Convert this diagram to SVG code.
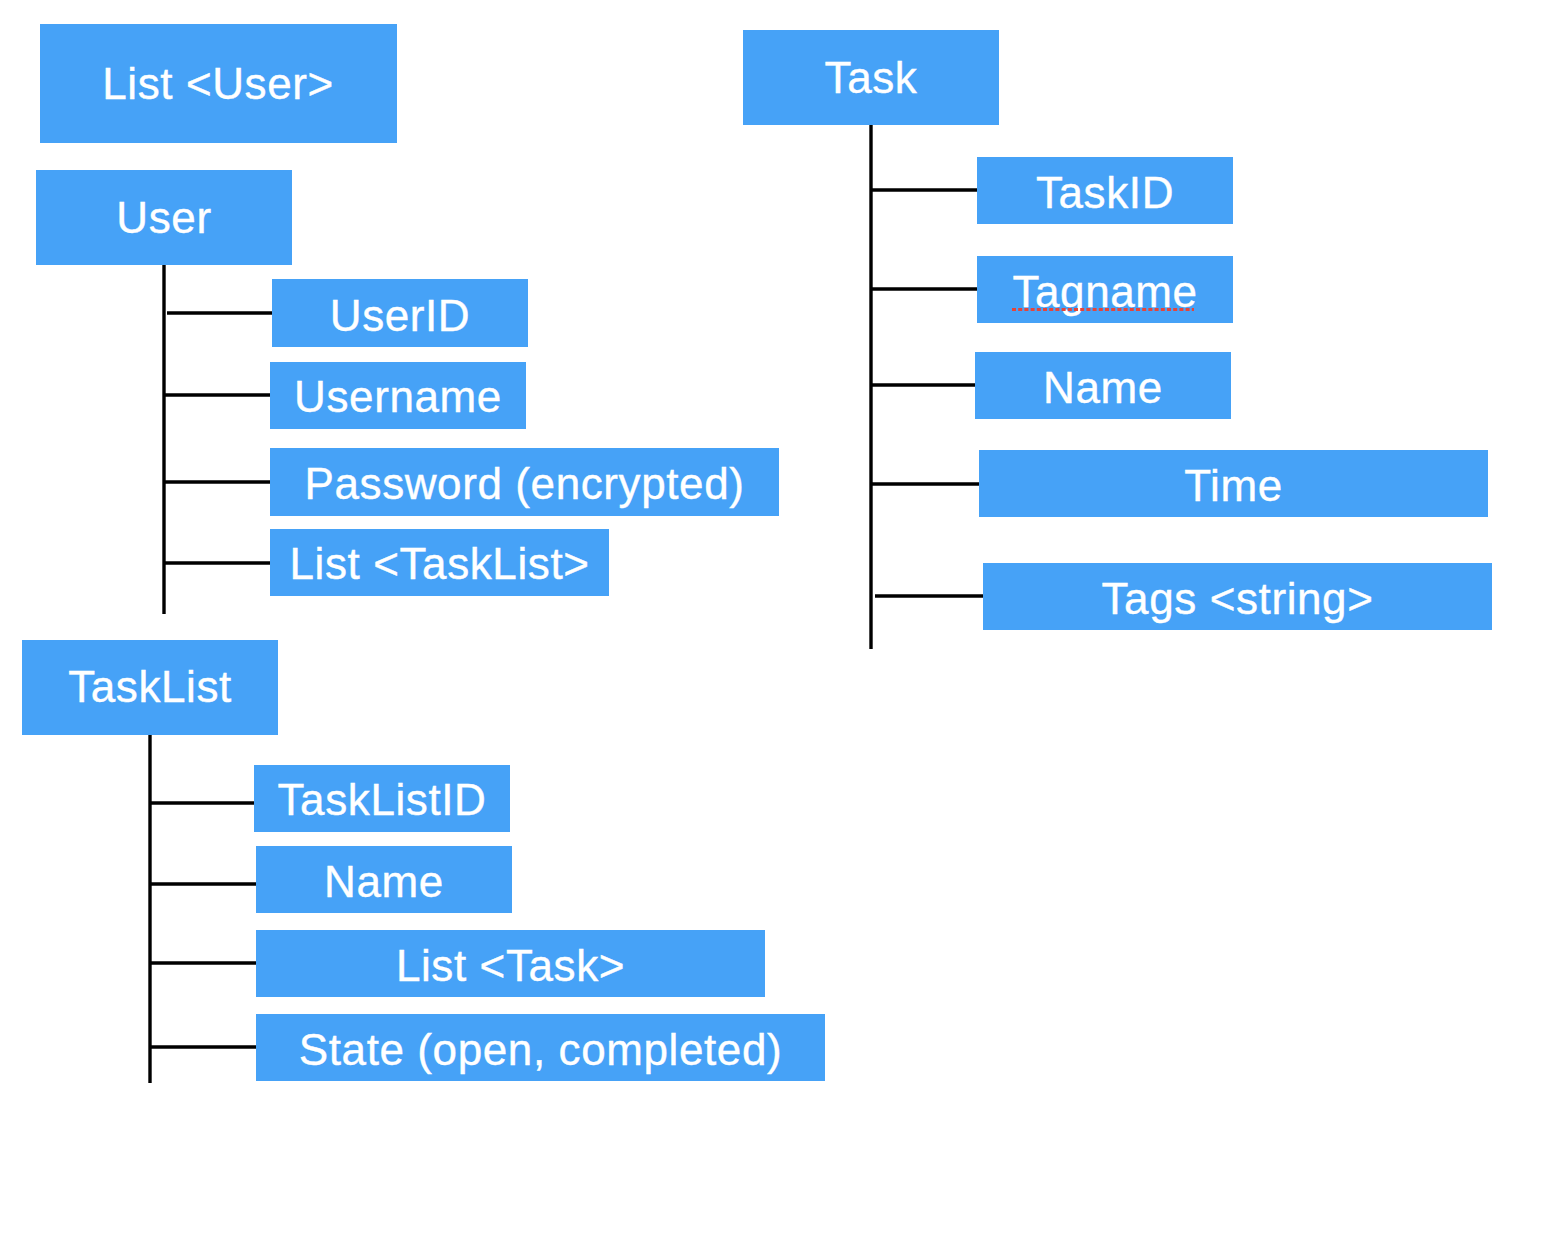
<svg xmlns="http://www.w3.org/2000/svg" width="1566" height="1238" viewBox="0 0 1566 1238">
<style>
.box{fill:#46A2F7}
.lbl{font-family:"Liberation Sans",Arial,Helvetica,sans-serif;font-size:44px;fill:#FFFFFF;text-anchor:middle;letter-spacing:0.6px;stroke:#FFFFFF;stroke-width:0.4px}
.conn line{stroke:#000000;stroke-width:3.4;fill:none}
</style>
<rect width="1566" height="1238" fill="#FFFFFF"/>
<g id="connectors" class="conn">
<line x1="164" y1="262" x2="164" y2="614"/>
<line x1="167" y1="313" x2="272" y2="313"/>
<line x1="164" y1="395" x2="270" y2="395"/>
<line x1="164" y1="482" x2="270" y2="482"/>
<line x1="164" y1="563" x2="270" y2="563"/>
<line x1="871" y1="122" x2="871" y2="649"/>
<line x1="871" y1="190" x2="977" y2="190"/>
<line x1="871" y1="289" x2="977" y2="289"/>
<line x1="871" y1="385" x2="975" y2="385"/>
<line x1="871" y1="484" x2="979" y2="484"/>
<line x1="875" y1="596" x2="983" y2="596"/>
<line x1="150" y1="732" x2="150" y2="1083"/>
<line x1="150" y1="803" x2="254" y2="803"/>
<line x1="150" y1="884" x2="256" y2="884"/>
<line x1="150" y1="963" x2="256" y2="963"/>
<line x1="150" y1="1047" x2="256" y2="1047"/>
</g>
<g id="list-user"><rect class="box" x="40" y="24" width="357" height="119"/><text class="lbl" x="218" y="99">List &lt;User&gt;</text></g>
<g id="user"><rect class="box" x="36" y="170" width="256" height="95"/><text class="lbl" x="164" y="233">User</text></g>
<g id="user-id"><rect class="box" x="272" y="279" width="256" height="68"/><text class="lbl" x="400" y="331">UserID</text></g>
<g id="username"><rect class="box" x="270" y="362" width="256" height="67"/><text class="lbl" x="398" y="412">Username</text></g>
<g id="password"><rect class="box" x="270" y="448" width="509" height="68"/><text class="lbl" x="524.5" y="499">Password (encrypted)</text></g>
<g id="list-tasklist"><rect class="box" x="270" y="529" width="339" height="67"/><text class="lbl" x="439.5" y="579">List &lt;TaskList&gt;</text></g>
<g id="task"><rect class="box" x="743" y="30" width="256" height="95"/><text class="lbl" x="871" y="93">Task</text></g>
<g id="task-id"><rect class="box" x="977" y="157" width="256" height="67"/><text class="lbl" x="1105" y="208">TaskID</text></g>
<g id="tagname"><rect class="box" x="977" y="256" width="256" height="67"/><text class="lbl" x="1105" y="307">Tagname</text><line x1="1012" y1="309.5" x2="1194" y2="309.5" stroke="#E5453A" stroke-width="3" stroke-dasharray="4 2.2"/></g>
<g id="task-name"><rect class="box" x="975" y="352" width="256" height="67"/><text class="lbl" x="1103" y="403">Name</text></g>
<g id="time"><rect class="box" x="979" y="450" width="509" height="67"/><text class="lbl" x="1233.5" y="501">Time</text></g>
<g id="tags"><rect class="box" x="983" y="563" width="509" height="67"/><text class="lbl" x="1237.5" y="614">Tags &lt;string&gt;</text></g>
<g id="tasklist"><rect class="box" x="22" y="640" width="256" height="95"/><text class="lbl" x="150" y="702">TaskList</text></g>
<g id="tasklist-id"><rect class="box" x="254" y="765" width="256" height="67"/><text class="lbl" x="382" y="815">TaskListID</text></g>
<g id="tasklist-name"><rect class="box" x="256" y="846" width="256" height="67"/><text class="lbl" x="384" y="897">Name</text></g>
<g id="list-task"><rect class="box" x="256" y="930" width="509" height="67"/><text class="lbl" x="510.5" y="981">List &lt;Task&gt;</text></g>
<g id="state"><rect class="box" x="256" y="1014" width="569" height="67"/><text class="lbl" x="540.5" y="1065">State (open, completed)</text></g>
</svg>
